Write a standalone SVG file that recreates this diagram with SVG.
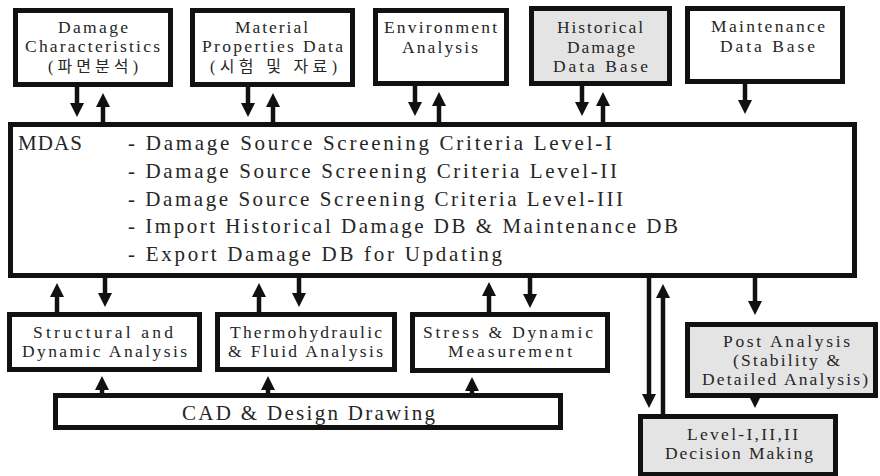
<svg xmlns="http://www.w3.org/2000/svg" width="880" height="476" viewBox="0 0 880 476">
<style>
.box{fill:#fff;stroke:#111;stroke-width:5}
.gray{fill:#e4e4e4}
.t{font-family:"Liberation Serif","Times New Roman","DejaVu Serif","Noto Sans CJK KR",serif;font-size:17.5px;fill:#262626}
.k{font-size:16px}
.m{font-size:21px}
.c line{stroke:#111;stroke-width:4.5}
</style>
<defs>
<marker id="ah" viewBox="0 0 14 14" markerWidth="14" markerHeight="14" refX="6" refY="7" orient="auto" markerUnits="userSpaceOnUse">
<path d="M0,0 L14,7 L0,14 z" fill="#111"/>
</marker>
</defs>
<rect width="880" height="476" fill="#fff"/>

<g id="n-damage">
<rect class="box" x="15.5" y="10.5" width="155" height="74"/>
<text class="t" x="58" y="33" textLength="70" lengthAdjust="spacing">Damage</text>
<text class="t" x="25" y="52" textLength="135" lengthAdjust="spacing">Characteristics</text>
<text class="t k" x="48" y="72" textLength="90" lengthAdjust="spacing">(파면분석)</text>
</g>
<g id="n-material">
<rect class="box" x="192.5" y="10.5" width="160" height="74"/>
<text class="t" x="235" y="33" textLength="73" lengthAdjust="spacing">Material</text>
<text class="t" x="202" y="52" textLength="141" lengthAdjust="spacing">Properties Data</text>
<text class="t k" x="210" y="72" textLength="127" lengthAdjust="spacing">(시험 및 자료)</text>
</g>
<g id="n-environment">
<rect class="box" x="375.5" y="10.5" width="131" height="73"/>
<text class="t" x="384" y="33" textLength="113" lengthAdjust="spacing">Environment</text>
<text class="t" x="402" y="53" textLength="76" lengthAdjust="spacing">Analysis</text>
</g>
<g id="n-historical">
<rect class="box gray" x="531.5" y="8.5" width="138" height="75"/>
<text class="t" x="557" y="33" textLength="86" lengthAdjust="spacing">Historical</text>
<text class="t" x="567" y="53" textLength="68" lengthAdjust="spacing">Damage</text>
<text class="t" x="553" y="72" textLength="95" lengthAdjust="spacing">Data Base</text>
</g>
<g id="n-maintenance">
<rect class="box" x="687.5" y="8.5" width="155" height="73"/>
<text class="t" x="711" y="32" textLength="114" lengthAdjust="spacing">Maintenance</text>
<text class="t" x="720" y="52" textLength="95" lengthAdjust="spacing">Data Base</text>
</g>

<g id="n-mdas">
<rect class="box" x="10.5" y="124.5" width="844" height="151"/>
<text class="t m" x="18" y="150" textLength="64" lengthAdjust="spacing">MDAS</text>
<text class="t m" x="128" y="150" textLength="484" lengthAdjust="spacing">- Damage Source Screening Criteria Level-I</text>
<text class="t m" x="128" y="178" textLength="489" lengthAdjust="spacing">- Damage Source Screening Criteria Level-II</text>
<text class="t m" x="128" y="206" textLength="495" lengthAdjust="spacing">- Damage Source Screening Criteria Level-III</text>
<text class="t m" x="128" y="233" textLength="550" lengthAdjust="spacing">- Import Historical Damage DB &amp; Maintenance DB</text>
<text class="t m" x="128" y="261" textLength="374" lengthAdjust="spacing">- Export Damage DB for Updating</text>
</g>

<g id="n-structural">
<rect class="box" x="9.5" y="314.5" width="190" height="55"/>
<text class="t" x="33" y="338" textLength="140" lengthAdjust="spacing">Structural  and</text>
<text class="t" x="22" y="357" textLength="165" lengthAdjust="spacing">Dynamic Analysis</text>
</g>
<g id="n-thermo">
<rect class="box" x="217.5" y="314.5" width="177" height="55"/>
<text class="t" x="230" y="338" textLength="152" lengthAdjust="spacing">Thermohydraulic</text>
<text class="t" x="228" y="357" textLength="155" lengthAdjust="spacing">&amp; Fluid Analysis</text>
</g>
<g id="n-stress">
<rect class="box" x="412.5" y="314.5" width="195" height="56"/>
<text class="t" x="423" y="338" textLength="170" lengthAdjust="spacing">Stress &amp; Dynamic</text>
<text class="t" x="448" y="357" textLength="124" lengthAdjust="spacing">Measurement</text>
</g>
<g id="n-cad">
<rect class="box" x="55.5" y="395.5" width="505" height="32"/>
<text class="t m" x="182" y="420" textLength="253" lengthAdjust="spacing">CAD &amp; Design Drawing</text>
</g>
<g id="n-post">
<rect class="box gray" x="687.5" y="324.5" width="188" height="71"/>
<text class="t" x="723" y="347" textLength="127" lengthAdjust="spacing">Post Analysis</text>
<text class="t" x="733" y="366" textLength="107" lengthAdjust="spacing">(Stability &amp;</text>
<text class="t" x="702" y="385" textLength="166" lengthAdjust="spacing">Detailed Analysis)</text>
</g>
<g id="n-level">
<rect class="box gray" x="640.5" y="416.5" width="195" height="58"/>
<text class="t" x="687" y="440" textLength="111" lengthAdjust="spacing">Level-I,II,II</text>
<text class="t" x="665" y="459" textLength="148" lengthAdjust="spacing">Decision Making</text>
</g>

<g id="connectors" class="c">
<line x1="77" y1="87" x2="77" y2="109" marker-end="url(#ah)"/>
<line x1="103" y1="122" x2="103" y2="101" marker-end="url(#ah)"/>
<line x1="248" y1="87" x2="248" y2="109" marker-end="url(#ah)"/>
<line x1="273" y1="122" x2="273" y2="101" marker-end="url(#ah)"/>
<line x1="415" y1="86" x2="415" y2="108" marker-end="url(#ah)"/>
<line x1="439" y1="122" x2="439" y2="100" marker-end="url(#ah)"/>
<line x1="582" y1="86" x2="582" y2="108" marker-end="url(#ah)"/>
<line x1="603" y1="122" x2="603" y2="100" marker-end="url(#ah)"/>
<line x1="745" y1="84" x2="745" y2="106" marker-end="url(#ah)"/>

<line x1="57" y1="312" x2="57" y2="291" marker-end="url(#ah)"/>
<line x1="105" y1="278" x2="105" y2="299" marker-end="url(#ah)"/>
<line x1="259" y1="312" x2="259" y2="291" marker-end="url(#ah)"/>
<line x1="299" y1="278" x2="299" y2="299" marker-end="url(#ah)"/>
<line x1="489" y1="312" x2="489" y2="290" marker-end="url(#ah)"/>
<line x1="530" y1="278" x2="530" y2="300" marker-end="url(#ah)"/>
<line x1="649" y1="278" x2="649" y2="400" marker-end="url(#ah)"/>
<line x1="663" y1="414" x2="663" y2="292" marker-end="url(#ah)"/>
<line x1="755" y1="278" x2="755" y2="307" marker-end="url(#ah)"/>
<line x1="755" y1="396" x2="755" y2="400" marker-end="url(#ah)"/>

<line x1="102" y1="393" x2="102" y2="384" marker-end="url(#ah)"/>
<line x1="268" y1="393" x2="268" y2="384" marker-end="url(#ah)"/>
<line x1="472" y1="393" x2="472" y2="385" marker-end="url(#ah)"/>
</g>
</svg>
